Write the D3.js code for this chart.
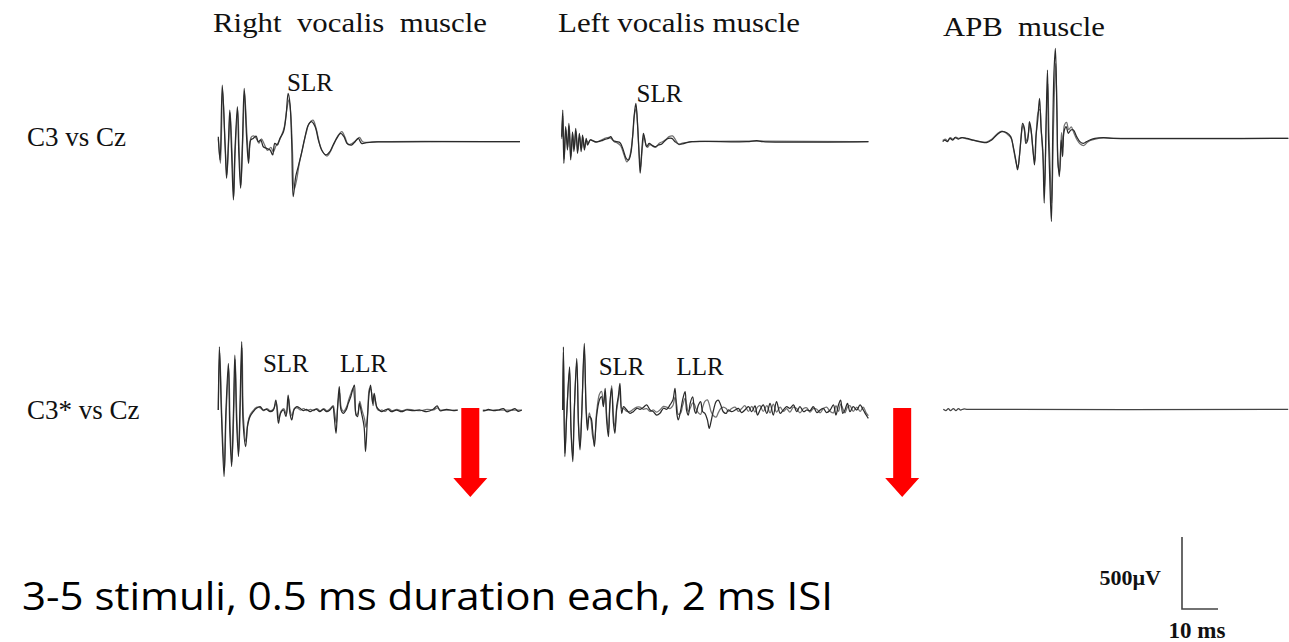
<!DOCTYPE html>
<html><head><meta charset="utf-8">
<script src="https://cdn.jsdelivr.net/npm/d3@7"></script>
<style>html,body{margin:0;padding:0;background:#fff;}svg{display:block;}</style>
</head><body>
<script>
// ---------- DATA (time in ms, amplitude in µV) ----------
const columnTitles = ["Right  vocalis  muscle", "Left vocalis muscle", "APB  muscle"];
const rowLabels = ["C3 vs Cz", "C3* vs Cz"];
const bottomNote = "3-5 stimuli, 0.5 ms duration each, 2 ms ISI";
const scaleBarLabels = ["500\u00b5V", "10 ms"];
const scaleBarValues = [500, 10];

// Right vocalis, C3 vs Cz
const rvC3a = [[0,35],[0.5,-127],[1.1,393],[1.9,-35],[2.3,-254],[2.8,-12],[3.2,219],[3.7,-81],[4.2,-404],[4.6,-81],[5.3,243],[5.7,-81],[6.2,-323],[6.7,-12],[7.2,370],[7.9,12],[8.4,-150],[9.0,12],[9.7,23],[10.5,39],[11.1,0],[11.8,12],[12.5,-35],[13.4,-46],[14.4,-58],[15.1,-92],[15.7,-12],[16.4,-23],[17.1,23],[18.1,69],[18.8,173],[19.4,335],[19.9,266],[20.4,-12],[20.8,-381],[21.5,-243],[22.2,-173],[23.1,-81],[24.1,35],[25.0,116],[25.9,139],[26.9,104],[27.8,12],[28.7,-58],[29.9,-92],[31.0,-69],[31.9,-23],[32.9,23],[34.0,58],[34.9,35],[35.8,-12],[37.0,-23],[38.0,0],[38.9,23],[39.8,-12],[41.2,-7],[44,-2],[83.8,0]];
const rvC3b = [[0,20],[0.6,-150],[1.2,360],[1.9,-20],[2.4,-230],[2.9,10],[3.3,200],[3.8,-60],[4.3,-380],[4.7,-60],[5.4,220],[5.8,-60],[6.3,-300],[6.8,10],[7.3,340],[8.0,30],[8.5,-120],[9.1,30],[9.8,40],[10.6,20],[11.3,-10],[12.0,20],[12.8,-20],[13.7,-60],[14.6,-40],[15.3,-70],[16.0,-30],[16.8,0],[17.5,40],[18.3,100],[19.0,220],[19.6,290],[20.1,200],[20.6,-60],[21.1,-330],[21.8,-260],[22.5,-150],[23.4,-50],[24.4,60],[25.3,130],[26.3,150],[27.2,90],[28.1,-10],[29.0,-70],[30.2,-100],[31.3,-60],[32.2,-10],[33.2,40],[34.3,70],[35.2,30],[36.1,-20],[37.3,-10],[38.3,10],[39.2,30],[40.1,0],[41.5,-5],[44.5,0],[83.8,0]];

// Left vocalis, C3 vs Cz
const lvC3a = [[0,35],[0.3,219],[0.6,-150],[1.1,104],[1.6,-58],[2.0,127],[2.5,-127],[3.0,69],[3.4,-69],[3.9,92],[4.4,-81],[4.9,58],[5.4,-69],[5.8,46],[6.3,-58],[6.8,23],[7.2,-23],[7.9,12],[8.6,7],[9.3,0],[10.2,0],[11.1,7],[12.0,16],[13.0,23],[13.6,35],[14.4,7],[15.3,0],[16.2,-7],[17.1,-58],[17.9,-115],[18.6,-127],[19.2,-81],[19.7,35],[20.1,173],[20.6,266],[21.0,150],[21.4,-35],[21.8,-219],[22.2,-81],[22.7,58],[23.1,12],[23.6,-35],[24.3,-12],[25.0,-23],[25.9,-35],[26.9,-23],[27.8,-16],[28.7,7],[29.6,23],[30.6,23],[31.5,0],[32.4,-16],[33.3,-16],[34.7,-7],[36.1,0],[39.4,2],[51.4,0],[54.2,7],[56.0,0],[85.2,0]];
const lvC3b = [[0,20],[0.3,180],[0.7,-120],[1.2,80],[1.7,-40],[2.1,110],[2.6,-100],[3.1,50],[3.5,-50],[4.0,70],[4.5,-60],[5.0,40],[5.5,-50],[5.9,30],[6.4,-40],[6.9,10],[7.4,-10],[8.0,15],[8.8,5],[9.5,-5],[10.4,5],[11.3,15],[12.2,25],[13.1,30],[13.8,20],[14.6,0],[15.5,-10],[16.4,-30],[17.3,-90],[18.1,-140],[18.8,-110],[19.3,-50],[19.8,60],[20.3,200],[20.7,230],[21.1,100],[21.5,-80],[21.9,-180],[22.4,-40],[22.9,40],[23.3,-10],[23.8,-40],[24.5,-20],[25.2,-30],[26.1,-40],[27.1,-10],[28.0,0],[28.9,15],[29.8,35],[30.8,40],[31.7,10],[32.6,-20],[33.5,-10],[34.9,-5],[36.3,0],[85.2,0]];

// APB, C3 vs Cz
const apbC3a = [[0,-23],[0.6,-12],[1.3,-23],[2.0,0],[2.8,-12],[3.4,5],[4.4,-5],[5.3,5],[6.7,0],[8.5,-12],[10.4,-23],[12.2,-30],[13.6,-12],[15.0,23],[16.4,46],[17.8,39],[18.9,12],[19.6,-58],[20.3,-150],[20.8,-219],[21.3,-127],[21.8,12],[22.2,104],[22.7,69],[23.1,-35],[23.6,-12],[24.1,116],[24.5,69],[25.0,-58],[25.5,-185],[25.9,12],[26.4,127],[26.9,277],[27.3,81],[27.8,-81],[28.2,-450],[28.7,81],[29.1,474],[29.4,-12],[29.8,-335],[30.2,-578],[30.6,104],[30.9,450],[31.3,624],[31.7,219],[32.0,-150],[32.4,-266],[32.9,-12],[33.3,-127],[33.7,46],[34.3,81],[34.9,35],[35.6,58],[36.3,58],[37.2,12],[38.1,-23],[39.1,-35],[40.0,-23],[40.9,-12],[42.3,0],[44.6,5],[47.4,0],[96.0,0]];
const apbC3b = [[0,-15],[0.7,-5],[1.4,-18],[2.1,5],[2.9,-8],[3.6,8],[4.5,0],[5.5,5],[6.8,-5],[8.6,-15],[10.5,-25],[12.3,-25],[13.7,-5],[15.1,30],[16.5,50],[17.9,30],[19.0,0],[19.7,-80],[20.4,-170],[20.9,-200],[21.4,-100],[21.9,40],[22.3,90],[22.8,40],[23.2,-20],[23.7,20],[24.2,90],[24.6,40],[25.1,-90],[25.6,-160],[26.0,40],[26.5,180],[27.0,200],[27.4,40],[27.9,-150],[28.3,-350],[28.8,150],[29.2,380],[29.5,60],[29.9,-250],[30.3,-450],[30.7,0],[31.0,300],[31.4,520],[31.8,100],[32.1,-200],[32.5,-230],[33.0,40],[33.4,-60],[33.8,90],[34.4,110],[35.0,60],[35.7,80],[36.4,40],[37.3,-10],[38.2,-40],[39.2,-50],[40.1,-30],[41.0,-15],[42.4,-5],[44.7,3],[47.5,0],[96.0,0]];

// Right vocalis, C3* vs Cz
const rvC3sa = [[0,0],[0.3,439],[0.9,-46],[1.6,-462],[2.1,-23],[2.8,323],[3.2,-139],[3.7,-393],[4.2,-23],[4.6,381],[5.1,-92],[5.6,-323],[6.0,0],[6.5,474],[6.9,-92],[7.6,-254],[8.1,-116],[8.8,-46],[9.7,-12],[10.6,12],[11.6,23],[12.5,0],[13.4,5],[14.4,-12],[15.3,0],[16.0,69],[16.7,-92],[17.3,-23],[18.1,0],[18.8,-46],[19.4,104],[19.9,-23],[20.4,-69],[21.0,0],[21.8,23],[22.7,12],[23.6,-5],[24.5,5],[25.5,-12],[26.4,0],[27.3,5],[28.2,-12],[29.2,5],[30.1,-12],[31.0,0],[31.8,23],[32.2,-46],[32.7,-162],[33.1,0],[33.6,162],[34.1,0],[34.7,-23],[35.5,0],[36.1,46],[36.8,92],[37.3,139],[37.8,173],[38.2,-23],[38.7,-46],[39.2,46],[39.8,-23],[40.5,-116],[40.9,-289],[41.4,-69],[41.9,116],[42.3,173],[42.9,46],[43.3,116],[44.0,23],[44.7,0],[45.4,-12],[46.3,0],[47.2,5],[48.1,-12],[49.5,0],[50.9,-12],[52.3,0],[54.2,-5],[56.0,0],[57.9,-12],[59.7,5],[60.8,28],[61.6,-5],[63.4,5],[65.3,-5],[66.7,0],[69.0,0],[74.1,-5],[75.0,5],[76.4,-5],[77.8,0],[79.2,9],[80.1,-12],[81.5,0],[82.4,9],[83.3,-9],[84.3,0]];
const rvC3sb = [[0,0],[0.4,400],[1.0,-60],[1.7,-420],[2.2,-10],[2.9,290],[3.3,-120],[3.8,-360],[4.3,-10],[4.7,350],[5.2,-80],[5.7,-290],[6.1,20],[6.6,430],[7.0,-60],[7.7,-220],[8.2,-90],[8.9,-30],[9.8,0],[10.7,20],[11.7,15],[12.6,-5],[13.5,10],[14.5,-5],[15.4,10],[16.1,50],[16.8,-60],[17.4,-10],[18.2,10],[18.9,-30],[19.5,80],[20.0,-10],[20.5,-40],[21.1,10],[21.9,15],[22.8,0],[23.7,10],[24.6,-5],[25.6,5],[26.5,-5],[27.4,10],[28.3,-5],[29.3,10],[30.2,-5],[31.1,10],[31.9,30],[32.3,-20],[32.8,-90],[33.2,40],[33.7,120],[34.2,10],[34.8,-10],[35.6,20],[36.2,70],[36.9,120],[37.4,150],[37.9,60],[38.3,-40],[38.8,-20],[39.3,60],[39.9,0],[40.6,-60],[41.0,-120],[41.5,-20],[42.0,150],[42.4,140],[43.0,30],[43.4,90],[44.1,10],[44.8,-5],[45.5,0],[46.4,-10],[47.3,10],[48.2,-5],[49.6,5],[51.0,-5],[52.4,5],[54.3,0],[56.1,-5],[58.0,5],[59.8,0],[60.9,15],[61.7,0],[63.5,0],[84.3,0]];

// Left vocalis, C3* vs Cz
const lvC3sa = [[0,0],[0.2,439],[0.6,-323],[1.1,-46],[1.9,300],[2.3,-139],[2.8,-358],[3.2,-23],[3.9,358],[4.4,-116],[4.8,-277],[5.3,-23],[6.0,462],[6.5,0],[6.9,-139],[7.4,-46],[7.9,-58],[8.3,-139],[8.8,-254],[9.4,-46],[10.2,69],[10.8,92],[11.3,23],[11.8,150],[12.2,-69],[12.7,-185],[13.1,46],[13.6,150],[14.1,-92],[14.5,-162],[15.0,23],[15.5,104],[15.9,185],[16.4,-23],[16.9,23],[17.8,0],[18.7,-23],[19.6,-12],[20.6,12],[21.5,5],[22.4,18],[23.3,35],[24.3,0],[25.2,-12],[26.1,-35],[27.0,-23],[28.0,12],[28.9,5],[29.8,35],[30.6,69],[31.2,150],[31.7,-23],[32.1,-69],[32.8,0],[33.3,69],[34.0,127],[34.4,0],[34.9,-35],[35.4,46],[36.1,92],[36.6,0],[37.0,-23],[37.7,35],[38.3,58],[38.9,-12],[39.5,-23],[40.2,-69],[40.7,-127],[41.2,-81],[41.9,0],[42.6,58],[43.2,69],[43.9,35],[44.6,-12],[45.4,-23],[46.0,0],[46.9,-12],[47.9,0],[48.8,12],[49.7,-18],[50.6,0],[51.6,23],[52.5,-12],[53.4,28],[54.1,-35],[54.8,0],[55.7,35],[56.7,-23],[57.6,46],[58.5,-35],[59.4,58],[60.4,-23],[61.3,0],[62.2,23],[63.1,12],[64.1,35],[65.0,-12],[65.9,23],[66.9,-12],[67.8,0],[68.7,-5],[69.6,23],[70.6,-18],[71.5,0],[72.4,12],[73.3,-18],[74.3,0],[75.2,35],[75.9,-35],[76.6,35],[77.2,69],[77.8,-23],[78.4,0],[79.1,46],[79.8,-12],[80.7,23],[81.7,0],[82.6,35],[83.5,0],[84.3,-35],[84.9,-58]];
const lvC3sb = [[0,0],[0.2,400],[0.6,-300],[1.1,-30],[1.9,270],[2.3,-120],[2.8,-320],[3.2,-10],[3.9,330],[4.4,-100],[4.8,-250],[5.3,-10],[6.0,420],[6.5,30],[6.9,-100],[7.4,-20],[7.9,-80],[8.3,-180],[8.8,-220],[9.4,-20],[10.2,110],[10.8,130],[11.3,40],[11.8,120],[12.2,-30],[12.7,-140],[13.1,20],[13.6,170],[14.1,-40],[14.5,-120],[15.0,0],[15.5,80],[15.9,150],[16.4,10],[16.9,10],[17.8,-10],[18.7,-10],[19.6,5],[20.6,20],[21.5,20],[22.4,5],[23.3,10],[24.3,-10],[25.2,0],[26.1,-15],[27.0,0],[28.0,25],[28.9,20],[29.8,10],[30.6,30],[31.2,90],[31.7,30],[32.1,-30],[32.8,-20],[33.3,30],[34.0,80],[34.4,40],[34.9,-10],[35.4,10],[36.1,50],[36.6,40],[37.0,10],[37.7,-20],[38.3,-30],[38.9,20],[39.5,60],[40.2,70],[40.7,40],[41.2,-10],[41.9,-40],[42.6,-50],[43.2,-20],[43.9,10],[44.6,20],[45.4,10],[46.0,-10],[46.9,10],[47.9,20],[48.8,-10],[49.7,10],[50.6,30],[51.6,-10],[52.5,25],[53.4,-15],[54.1,20],[54.8,30],[55.7,-10],[56.7,30],[57.6,-20],[58.5,40],[59.4,-15],[60.4,20],[61.3,-10],[62.2,10],[63.1,-15],[64.1,20],[65.0,10],[65.9,-20],[66.9,10],[67.8,15],[68.7,-15],[69.6,10],[70.6,5],[71.5,-20],[72.4,10],[73.3,20],[74.3,-10],[75.2,-20],[75.9,30],[76.6,-10],[77.2,40],[77.8,10],[78.4,-20],[79.1,20],[79.8,30],[80.7,-10],[81.7,20],[82.6,-10],[83.5,20],[84.3,-20],[84.9,-40]];

// APB, C3* vs Cz
const apbC3sa = [[0,0],[0.7,-9],[1.4,5],[2.0,-9],[2.8,5],[3.5,-9],[4.2,5],[4.8,-5],[5.6,2],[6.9,0],[95.8,0]];

// component labels [panelIndex, label, time ms, amplitude µV]
const compLabels = [[0,"SLR",19.1,355],[1,"SLR",20.8,275],[3,"SLR",12.4,265],[3,"LLR",33.8,265],[4,"SLR",10.0,245],[4,"LLR",31.6,245]];
// arrow markers [panelIndex, time ms]
const arrowMarks = [[3,70.0],[4,94.3]];

// ---------- LAYOUT ----------
const W = 1289, H = 642;
const pxPerMs = 3.6, pxPerUv = 72/500;
const panels = [
  {x0:218.3, base:141.7, traces:[rvC3b, rvC3a]},
  {x0:561.7, base:141.7, traces:[lvC3b, lvC3a]},
  {x0:942.7, base:138.3, traces:[apbC3b, apbC3a]},
  {x0:218.3, base:410.0, traces:[rvC3sb, rvC3sa]},
  {x0:562.7, base:410.0, traces:[lvC3sb, lvC3sa]},
  {x0:943.3, base:409.3, traces:[apbC3sa]}
];
panels.forEach(p => {
  p.x = d3.scaleLinear().domain([0, 100]).range([p.x0, p.x0 + 100*pxPerMs]);
  p.y = d3.scaleLinear().domain([0, 500]).range([p.base, p.base - 500*pxPerUv]);
});

const svg = d3.select("body").append("svg").attr("width", W).attr("height", H)
  .style("font-family", "'Liberation Serif','Times New Roman',serif");
svg.append("rect").attr("width", W).attr("height", H).attr("fill", "#fff");

// titles
const titleX = [213, 558, 943], titleY = [32, 32, 36], titleW = [274, 242, 162];
svg.selectAll("text.title").data(columnTitles).join("text").attr("class","title")
  .attr("x",(d,i)=>titleX[i]).attr("y",(d,i)=>titleY[i])
  .attr("font-size",28).attr("fill","#111").attr("xml:space","preserve").style("white-space","pre")
  .attr("textLength",(d,i)=>titleW[i]).attr("lengthAdjust","spacingAndGlyphs")
  .text(d=>d);

// row labels
const rowY = [146, 419];
svg.selectAll("text.row").data(rowLabels).join("text").attr("class","row")
  .attr("x",27).attr("y",(d,i)=>rowY[i]).attr("font-size",27).attr("fill","#111").text(d=>d);

// traces
const traceColors = ["#707070", "#2a2a2a"];
panels.forEach(p => {
  const line = d3.line().x(d=>p.x(d[0])).y(d=>p.y(d[1])).curve(d3.curveCatmullRom.alpha(0.5));
  const g = svg.append("g");
  p.traces.forEach((tr, k) => {
    g.append("path").datum(tr).attr("d", line).attr("fill","none")
      .attr("stroke", p.traces.length === 1 ? "#444" : traceColors[k])
      .attr("stroke-width", 1.25)
      .attr("stroke-linejoin","round");
  });
});

// component labels
svg.selectAll("text.comp").data(compLabels).join("text").attr("class","comp")
  .attr("x", d=>panels[d[0]].x(d[2])).attr("y", d=>panels[d[0]].y(d[3]))
  .attr("font-size",25).attr("fill","#111").text(d=>d[1]);

// red arrows
arrowMarks.forEach(a => {
  const p = panels[a[0]];
  const cx = p.x(a[1]), top = p.base - 2;
  const pts = [[cx-9,top],[cx+9,top],[cx+9,top+70],[cx+17,top+70],[cx,top+89],[cx-17,top+70],[cx-9,top+70]];
  const path = "M" + pts.map(q=>q.join(",")).join("L") + "Z";
  svg.append("path").attr("d", path).attr("fill","#fff").attr("stroke","#fff").attr("stroke-width",7);
  svg.append("path").attr("d", path).attr("fill","#ff0000");
});

// scale bar
const sbX = 1182, sbY = 609;
const sbx = d3.scaleLinear().domain([0, scaleBarValues[1]]).range([sbX, sbX + scaleBarValues[1]*pxPerMs]);
const sby = d3.scaleLinear().domain([0, scaleBarValues[0]]).range([sbY, sbY - scaleBarValues[0]*pxPerUv]);
svg.append("path").attr("d", `M${sbx(0)},${sby(scaleBarValues[0])}L${sbx(0)},${sby(0)}L${sbx(scaleBarValues[1])},${sby(0)}`)
  .attr("fill","none").attr("stroke","#444").attr("stroke-width",1.6);
svg.append("text").attr("x",1161).attr("y",585).attr("text-anchor","end").attr("font-size",22)
  .attr("font-weight","bold").attr("fill","#111").text(scaleBarLabels[0]);
svg.append("text").attr("x",1197).attr("y",638).attr("text-anchor","middle").attr("font-size",23)
  .attr("font-weight","bold").attr("fill","#111").text(scaleBarLabels[1]);

// bottom note
svg.append("text").attr("x",22).attr("y",610).attr("font-family","'Open Sans','Noto Sans',sans-serif")
  .attr("font-size",38).attr("fill","#000").attr("textLength",811).attr("lengthAdjust","spacingAndGlyphs")
  .text(bottomNote);
</script>
</body></html>
